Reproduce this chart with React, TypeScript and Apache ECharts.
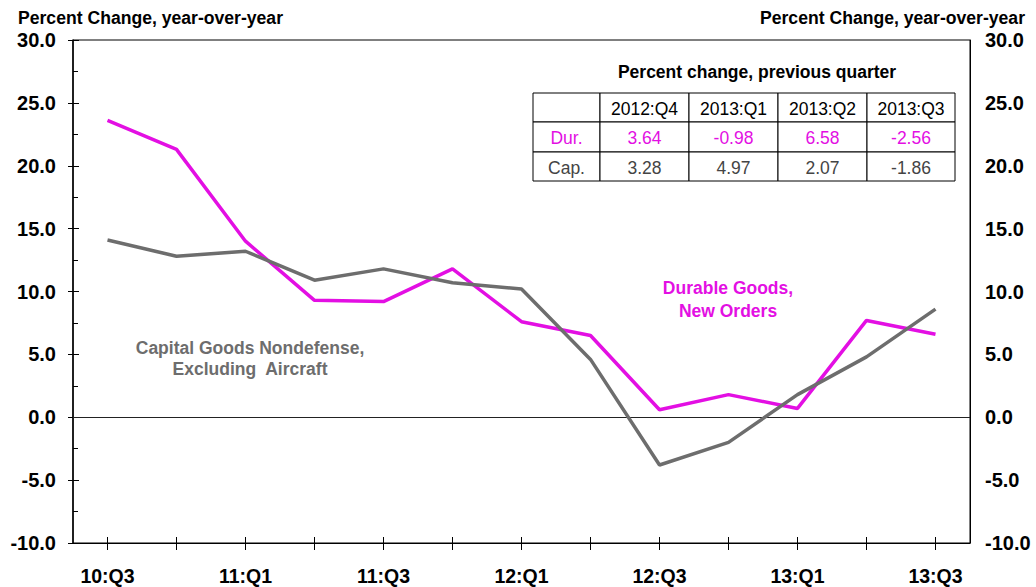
import React, { useEffect, useRef } from "react";
import * as echarts from "echarts";

const categories = ["10:Q3","10:Q4","11:Q1","11:Q2","11:Q3","11:Q4","12:Q1","12:Q2","12:Q3","12:Q4","13:Q1","13:Q2","13:Q3"];
const durableGoods = [23.6, 21.3, 14.0, 9.3, 9.2, 11.8, 7.6, 6.5, 0.6, 1.8, 0.7, 7.7, 6.6];
const capitalGoods = [14.1, 12.8, 13.2, 10.9, 11.8, 10.7, 10.2, 4.6, -3.8, -2.0, 1.8, 4.8, 8.6];

const tableTitle = "Percent change, previous quarter";
const tableHeaders = ["", "2012:Q4", "2013:Q1", "2013:Q2", "2013:Q3"];
const durRow = ["Dur.", "3.64", "-0.98", "6.58", "-2.56"];
const capRow = ["Cap.", "3.28", "4.97", "2.07", "-1.86"];

const MAGENTA = "#e30fe3";
const GRAY = "#6d6d6d";
const FONT = "Arial, 'Liberation Sans', sans-serif";

export default function App() {
  const ref = useRef<HTMLDivElement>(null);
  useEffect(() => {
    if (!ref.current) return;
    const chart = echarts.init(ref.current, undefined, { renderer: "svg" });

    const colX = [533, 600, 689, 778, 867, 955];
    const rowY = [93, 122, 152, 181];
    const rows = [tableHeaders, durRow, capRow];
    const rowColors = ["#000", MAGENTA, "#444"];
    const tableEls: any[] = [];
    rows.forEach((row, r) => {
      row.forEach((cell, c) => {
        tableEls.push({
          type: "rect",
          shape: { x: colX[c], y: rowY[r], width: colX[c + 1] - colX[c], height: rowY[r + 1] - rowY[r] },
          style: { fill: "#fff", stroke: "#000", lineWidth: 1 },
          z: 10,
        });
        if (cell) {
          tableEls.push({
            type: "text",
            x: (colX[c] + colX[c + 1]) / 2,
            y: (rowY[r] + rowY[r + 1]) / 2 + 1,
            style: { text: cell, fill: rowColors[r], font: `17.5px ${FONT}`, align: "center", verticalAlign: "middle" },
            z: 11,
          });
        }
      });
    });

    const axisFont = { color: "#000", fontWeight: "bold", fontSize: 20, fontFamily: FONT };

    const option: any = {
      animation: false,
      backgroundColor: "#fff",
      grid: { left: 73, right: 66, top: 40, bottom: 44, show: true, borderColor: "#000", borderWidth: 1, backgroundColor: "transparent" },
      xAxis: [
        {
          type: "category",
          data: categories,
          boundaryGap: true,
          position: "bottom",
          axisLine: { show: true, onZero: false, lineStyle: { color: "#000", width: 1 } },
          axisTick: { show: true, alignWithLabel: true, interval: 0, length: 7, lineStyle: { color: "#000" } },
          axisLabel: { interval: 1, margin: 23, ...axisFont, fontSize: 19.5 },
          splitLine: { show: false },
        },
        {
          type: "category",
          data: categories,
          boundaryGap: true,
          position: "bottom",
          axisLine: { show: false, onZero: false },
          axisTick: { show: true, inside: true, alignWithLabel: true, interval: 0, length: 6, lineStyle: { color: "#000" } },
          axisLabel: { show: false },
          splitLine: { show: false },
        },
      ],
      yAxis: [
        {
          type: "value",
          min: -10,
          max: 30,
          interval: 5,
          position: "left",
          axisLine: { show: true, lineStyle: { color: "#000", width: 1.5 } },
          axisTick: { show: true, length: 5, lineStyle: { color: "#000" } },
          axisLabel: { margin: 17, ...axisFont, formatter: (v: number) => v.toFixed(1) },
          splitLine: { show: false },
        },
        {
          type: "value",
          min: -10,
          max: 30,
          interval: 5,
          position: "left",
          axisLine: { show: false },
          axisTick: { show: true, inside: true, length: 6, lineStyle: { color: "#000" } },
          minorTick: { show: true, splitNumber: 2, length: 5, lineStyle: { color: "#000" } },
          axisLabel: { show: false },
          splitLine: { show: false },
        },
        {
          type: "value",
          min: -10,
          max: 30,
          interval: 5,
          position: "right",
          axisLine: { show: true, lineStyle: { color: "#000", width: 1 } },
          axisTick: { show: false },
          axisLabel: { margin: 15, ...axisFont, formatter: (v: number) => v.toFixed(1) },
          splitLine: { show: false },
        },
      ],
      series: [
        {
          name: "Capital Goods Nondefense, Excluding Aircraft",
          type: "line",
          data: capitalGoods,
          symbol: "none",
          lineStyle: { color: GRAY, width: 3.5 },
          z: 3,
          markLine: {
            silent: true,
            symbol: "none",
            label: { show: false },
            lineStyle: { color: "#222", width: 1.2, type: "solid" },
            data: [{ yAxis: 0 }],
            z: 1,
          },
        },
        {
          name: "Durable Goods, New Orders",
          type: "line",
          data: durableGoods,
          symbol: "none",
          lineStyle: { color: MAGENTA, width: 3.5 },
          z: 2,
        },
      ],
      graphic: [
        { type: "text", left: 18, top: 9, style: { text: "Percent Change, year-over-year", fill: "#000", font: `bold 17.6px ${FONT}` } },
        { type: "text", right: 11, top: 9, style: { text: "Percent Change, year-over-year", fill: "#000", font: `bold 17.6px ${FONT}` } },
        { type: "text", x: 757, y: 72, style: { text: tableTitle, fill: "#000", font: `bold 17.5px ${FONT}`, align: "center", verticalAlign: "middle" }, z: 11 },
        ...tableEls,
        { type: "text", x: 728, y: 299, style: { text: "Durable Goods,\nNew Orders", fill: MAGENTA, font: `bold 17.5px ${FONT}`, align: "center", verticalAlign: "middle", lineHeight: 23 }, z: 11 },
        { type: "text", x: 250, y: 358, style: { text: "Capital Goods Nondefense,\nExcluding  Aircraft", fill: GRAY, font: `bold 17.5px ${FONT}`, align: "center", verticalAlign: "middle", lineHeight: 21 }, z: 11 },
      ],
    };
    chart.setOption(option);
    return () => chart.dispose();
  }, []);
  return <div ref={ref} style={{ position: "absolute", left: 0, top: 0, width: 1036, height: 587 }} />;
}
